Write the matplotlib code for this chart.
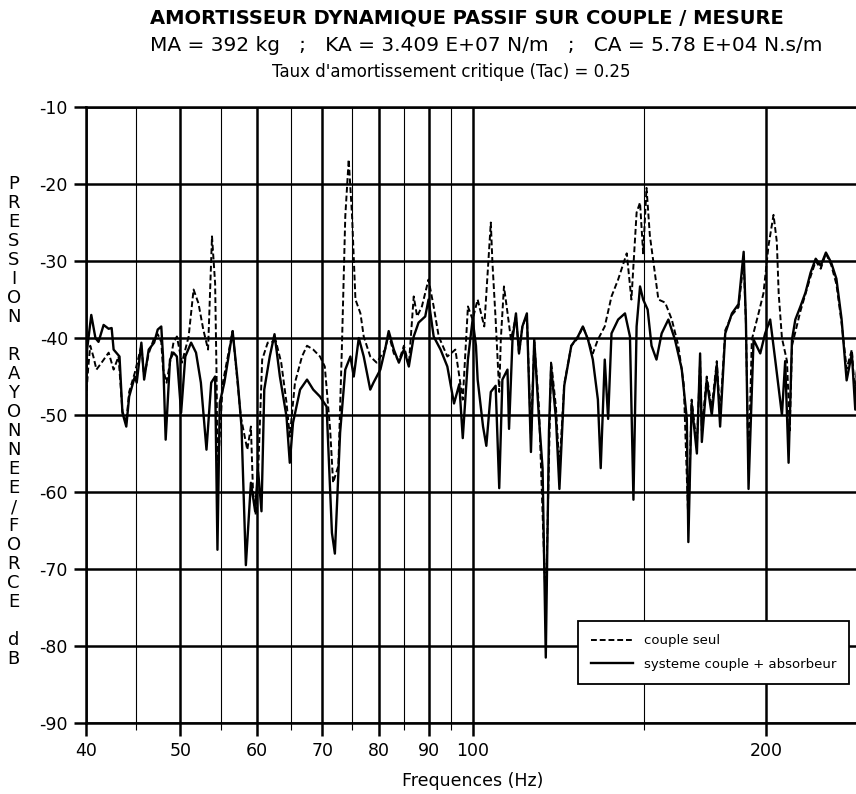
import matplotlib
matplotlib.use("Agg")
import matplotlib.pyplot as plt

# couple seul (dashed) : frequence (Hz), niveau (dB)
freq_seul = [40.0, 40.2, 40.4, 40.7, 41.0, 41.5, 42.2, 42.7, 43.2, 43.6, 44.0, 44.3,
             44.9, 45.6, 45.9, 46.4, 47.0, 47.4, 47.8, 48.0, 48.4, 49.2, 49.6, 50.2,
             51.0, 51.6, 52.2, 52.8, 53.4, 53.9, 54.3, 54.5, 54.6, 55.3, 56.6, 57.7,
             58.6, 59.1, 59.4, 59.8, 60.1, 60.7, 61.5, 62.7, 63.5, 64.3, 64.8, 65.6,
             66.7, 67.5, 68.5, 69.6, 70.4, 71.3, 71.8, 72.7, 73.3, 73.9, 74.5, 75.1,
             75.7, 76.6, 77.2, 78.4, 79.6, 81.2, 81.9, 82.9, 83.9, 84.9, 85.9, 86.9,
             87.6, 88.6, 90.0, 91.1, 92.2, 94.1, 95.9, 97.6, 98.8, 99.9, 101.1, 102.7,
             104.3, 104.7, 105.5, 106.4, 106.8, 107.6, 108.5, 109.4, 110.7, 111.5, 112.4, 113.6,
             114.7, 115.6, 116.9, 118.8, 120.3, 121.7, 122.7, 124.1, 126.2, 128.2, 129.7, 131.3,
             132.8, 134.4, 136.6, 138.8, 141.0, 143.9, 145.5, 147.3, 148.5, 149.6, 150.8, 152.0,
             153.3, 155.1, 157.6, 160.1, 162.6, 164.7, 166.5, 167.8, 169.9, 171.2, 171.9, 173.9,
             176.0, 178.1, 179.5, 181.7, 184.6, 187.5, 189.8, 190.8, 192.0, 193.5, 196.6, 198.9,
             201.3, 203.7, 205.3, 206.2, 207.8, 210.3, 211.7, 212.8, 217.1, 222.4, 225.1, 227.8,
             230.6, 233.5, 236.4, 239.3, 242.2, 245.2, 247.2, 249.2]
db_seul = [-48, -44, -41, -42.4, -44.1, -43.2, -41.9, -44.1, -42.4, -49.5, -51, -47,
           -44.5, -41, -45, -42, -40, -39.5, -40.5, -44, -45.8, -40.6, -39.8, -43.2,
           -39.8, -33.7, -35.5, -38.9, -41.5, -26.8, -32.9, -45.8, -58, -45.8, -39.1, -50.2,
           -54.5, -51.5, -60, -63, -58, -42.8, -40.6, -40.4, -43.2, -48.4, -52.8, -45.8,
           -42.4, -41, -41.5, -42.4, -43.7, -51.9, -58.8, -56.6, -41.5, -24.2, -16.8, -24.2,
           -35, -36.8, -39.8, -42.4, -43.2, -41.5, -39.5, -42, -43, -41, -43.5, -34.6,
           -37.2, -35.9, -32.4, -35.9, -39.8, -42.4, -41.5, -48, -35.9, -37.6, -35, -38.5,
           -25, -30.2, -37.6, -47, -40.2, -33.3, -36.7, -40.2, -37.2, -42, -38.5, -37,
           -53, -40.5, -49, -75, -43, -49, -57, -46, -41, -40, -38.5, -40.2,
           -42, -40.2, -38.5, -34.6, -32.4, -29, -35, -23.7, -22.4, -29, -20.5, -26.7,
           -30.2, -35, -35.4, -37.6, -41, -46, -64, -48, -54, -43, -52, -45,
           -49, -43, -50, -39, -37, -36, -30, -38, -57, -40.2, -36.8, -34.2,
           -28, -24, -27.5, -34.2, -40, -43, -52, -41, -36.5, -32, -30, -31,
           -29, -30.5, -33, -38, -44, -41.5, -48, -40]

# systeme couple + absorbeur (solid)
freq_abs = [40.0, 40.1, 40.5, 40.9, 41.2, 41.7, 42.2, 42.5, 42.7, 43.3, 43.6, 44.0,
            44.3, 44.9, 45.1, 45.6, 45.9, 46.4, 47.0, 47.4, 47.8, 48.0, 48.3, 48.8,
            49.2, 49.6, 50.1, 50.6, 51.3, 51.9, 52.5, 53.2, 53.8, 54.3, 54.6, 54.9,
            55.5, 56.6, 57.3, 57.8, 58.4, 59.1, 59.7, 60.1, 60.6, 61.0, 61.8, 62.5,
            63.3, 64.3, 64.8, 65.3, 66.4, 67.5, 68.5, 69.6, 70.7, 71.6, 72.1, 73.0,
            73.9, 74.8, 75.4, 76.3, 77.2, 78.4, 79.0, 80.3, 81.2, 81.9, 82.9, 83.9,
            84.9, 85.9, 86.9, 87.9, 89.3, 90.0, 91.1, 92.6, 94.1, 95.6, 96.8, 97.6,
            98.8, 99.9, 100.7, 101.1, 102.4, 103.2, 104.3, 105.5, 106.4, 107.2, 108.5, 108.9,
            109.8, 110.7, 111.5, 112.4, 113.6, 114.7, 115.6, 116.9, 117.9, 118.8, 119.7, 120.3,
            121.7, 122.7, 124.1, 126.2, 128.2, 129.7, 131.3, 132.8, 134.4, 135.3, 136.6, 137.7,
            138.8, 141.0, 143.3, 145.0, 146.2, 147.3, 148.5, 149.6, 151.2, 152.6, 154.4, 156.3,
            158.8, 161.3, 163.9, 165.9, 166.5, 167.8, 169.9, 171.2, 171.9, 173.9, 176.0, 178.1,
            179.5, 181.7, 184.6, 187.5, 189.8, 190.8, 192.0, 194.3, 197.4, 199.7, 202.1, 204.6,
            207.8, 209.4, 211.1, 212.8, 214.5, 217.1, 219.7, 222.4, 225.1, 227.8, 230.6, 233.5,
            236.4, 239.3, 242.2, 245.2, 247.2, 249.2]
db_abs = [-47, -41.5, -37, -40, -40.5, -38.3, -38.8, -38.7, -41.5, -42.4, -49.7, -51.5,
          -47.6, -45, -45.8, -40.6, -45.4, -41.5, -40.6, -38.9, -38.5, -42.4, -53.2, -42.8,
          -41.9, -42.4, -49.7, -42.4, -40.6, -41.9, -45.8, -54.5, -45.8, -45, -67.5, -48.4,
          -45.8, -39.1, -45.8, -51.5, -69.5, -58.8, -62.5, -57, -62.5, -46.7, -42.4, -39.5,
          -45, -50.2, -56.2, -51, -46.7, -45.4, -46.7, -47.6, -48.9, -65.3, -68, -52.3,
          -44.1, -42.4, -45, -40, -42.4, -46.7, -45.8, -44.1, -41.5, -39.1, -41.5, -43.2,
          -41.5, -43.7, -39.8, -38, -37.2, -35, -39.8, -41.5, -43.7, -48.5, -46, -53,
          -42.8, -37.6, -41, -45.4, -51.5, -54, -47, -46.2, -59.5, -45.4, -44.1, -51.8,
          -40.2, -36.8, -42, -38.5, -36.8, -54.8, -40.2, -50.5, -56.9, -81.5, -52, -43.7,
          -50.5, -59.6, -46.2, -41, -39.8, -38.5, -40.2, -42.8, -48, -56.9, -42.8, -50.5,
          -39.4, -37.6, -36.8, -39.8, -61, -38.5, -33.3, -35, -36.3, -41, -42.8, -39.4,
          -37.6, -40.2, -44, -50.5, -66.5, -48.5, -55, -42, -53.5, -45.5, -50, -43.5,
          -51.5, -39.4, -36.8, -35.6, -28.8, -37.6, -59.6, -40.2, -42, -39.4, -37.6, -43,
          -50, -43, -56.2, -40.2, -37.6, -35.9, -34.1, -31.5, -29.7, -30.6, -28.9, -30.2,
          -32.3, -37.5, -45.5, -42, -49.3, -39.5]

major_freqs = [40, 50, 60, 70, 80, 90, 100, 200]
minor_freqs = [45, 55, 65, 75, 85, 95, 150]
db_ticks = [-10, -20, -30, -40, -50, -60, -70, -80, -90]

fig = plt.figure(figsize=(8.56, 7.94), dpi=100)
ax = fig.add_axes([0.1005, 0.0894, 0.9042, 0.7758])

ax.plot(freq_seul, db_seul, color='black', lw=1.4, linestyle=(0, (3, 1.5)), label='couple seul')
ax.plot(freq_abs, db_abs, color='black', lw=1.7, label='systeme couple + absorbeur')

ax.set_xscale('log')
ax.set_xlim(40, 250)
ax.set_ylim(-90, -10)
ax.set_xticks(major_freqs)
ax.set_xticklabels([str(f) for f in major_freqs])
ax.set_xticks(minor_freqs, minor=True)
ax.xaxis.set_minor_formatter(matplotlib.ticker.NullFormatter())
ax.set_yticks(db_ticks)
ax.set_yticklabels([str(v) for v in db_ticks])

ax.grid(True, which='major', color='black', lw=1.8)
ax.grid(True, which='minor', axis='x', color='black', lw=0.8)
for t in ax.xaxis.get_minor_ticks():
    if t.get_loc() in (85, 95, 150):
        t.gridline.set_linestyle((0, (1, 1)))
ax.set_axisbelow(True)

ax.tick_params(which='major', direction='out', length=9, width=1.8, labelsize=12.5, pad=4)
ax.tick_params(which='minor', direction='out', length=5, width=0.8)
ax.tick_params(axis='x', pad=5)
for s in ax.spines.values():
    s.set_linewidth(1.8)
ax.spines['right'].set_visible(False)

ax.set_xlabel('Frequences (Hz)', fontsize=12.5, labelpad=8)

leg = ax.legend(loc='lower right', bbox_to_anchor=(0.986, 0.063), borderaxespad=0,
                fontsize=9.5, handlelength=3.2, fancybox=False, framealpha=1,
                edgecolor='black', borderpad=1.0, labelspacing=0.8)
leg.get_frame().set_linewidth(1.3)

fig.text(0.545, 0.977, 'AMORTISSEUR DYNAMIQUE PASSIF SUR COUPLE / MESURE',
         ha='center', va='center', fontsize=14, fontweight='bold')
fig.text(0.568, 0.943, 'MA = 392 kg   ;   KA = 3.409 E+07 N/m   ;   CA = 5.78 E+04 N.s/m',
         ha='center', va='center', fontsize=14.5)
fig.text(0.527, 0.909, "Taux d'amortissement critique (Tac) = 0.25",
         ha='center', va='center', fontsize=12)

ylab = 'PRESSION RAYONNEE/FORCE dB'
fig.text(0.016, 0.779, '\n'.join(ylab), ha='center', va='top', fontsize=13, linespacing=1.07)

fig.savefig('out.png', dpi=100)
